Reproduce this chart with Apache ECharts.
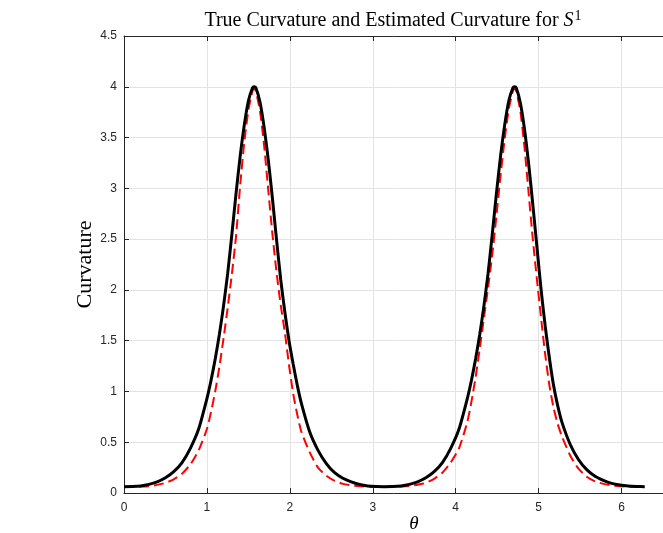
<!DOCTYPE html>
<html>
<head>
<meta charset="utf-8">
<script src="https://cdn.jsdelivr.net/npm/echarts@6/dist/echarts.min.js"></script>
<style>
  html, body { margin: 0; padding: 0; background: #fff; }
  #chart { width: 663px; height: 533px; }
</style>
</head>
<body>
<div id="chart"></div>
<script>
// theta samples (denser around the two peaks)
const theta = [
  0, 0.1, 0.2, 0.3, 0.4, 0.5, 0.6, 0.7, 0.8, 0.9, 1.0,
  1.05, 1.1, 1.15, 1.2, 1.25, 1.3, 1.35, 1.4, 1.45, 1.5, 1.55, 1.57,
  1.59, 1.64, 1.69, 1.74, 1.79, 1.84, 1.89, 1.94, 1.99, 2.04, 2.09, 2.14,
  2.24, 2.34, 2.44, 2.54, 2.64, 2.74, 2.84, 2.94, 3.04, 3.14,
  3.24, 3.34, 3.44, 3.54, 3.64, 3.74, 3.84, 3.94, 4.04, 4.14,
  4.19, 4.24, 4.29, 4.34, 4.39, 4.44, 4.49, 4.54, 4.59, 4.64, 4.69, 4.71,
  4.73, 4.78, 4.83, 4.88, 4.93, 4.98, 5.03, 5.08, 5.13, 5.18, 5.23, 5.28,
  5.38, 5.48, 5.58, 5.68, 5.78, 5.88, 5.98, 6.08, 6.18, 6.28
];
// true curvature (black solid)
const trueCurv = [
  0.0625, 0.064, 0.07, 0.085, 0.11, 0.15, 0.21, 0.30, 0.44, 0.63, 0.93,
  1.11, 1.32, 1.56, 1.84, 2.16, 2.54, 2.94, 3.31, 3.62, 3.86, 3.99, 4.0,
  3.99, 3.85, 3.60, 3.28, 2.90, 2.49, 2.10, 1.78, 1.50, 1.27, 1.06, 0.88,
  0.60, 0.42, 0.29, 0.20, 0.145, 0.11, 0.085, 0.07, 0.064, 0.0625,
  0.064, 0.07, 0.085, 0.11, 0.15, 0.21, 0.30, 0.44, 0.63, 0.93,
  1.11, 1.32, 1.56, 1.84, 2.16, 2.54, 2.94, 3.31, 3.62, 3.86, 3.99, 4.0,
  3.99, 3.84, 3.58, 3.24, 2.84, 2.42, 2.0, 1.64, 1.33, 1.06, 0.86, 0.70,
  0.48, 0.33, 0.23, 0.165, 0.125, 0.095, 0.078, 0.068, 0.064, 0.0625
];
// estimated curvature (red dashed)
const estCurv = [
  0.0625, 0.062, 0.063, 0.067, 0.08, 0.10, 0.135, 0.19, 0.28, 0.42, 0.63,
  0.80, 1.0, 1.24, 1.52, 1.82, 2.15, 2.52, 3.02, 3.45, 3.77, 3.96, 3.98,
  3.96, 3.76, 3.42, 2.98, 2.55, 2.17, 1.85, 1.58, 1.26, 0.98, 0.77, 0.60,
  0.40, 0.25, 0.17, 0.12, 0.09, 0.075, 0.066, 0.063, 0.062, 0.0625,
  0.062, 0.064, 0.07, 0.082, 0.10, 0.14, 0.20, 0.30, 0.44, 0.70,
  0.90, 1.14, 1.42, 1.72, 2.02, 2.34, 2.72, 3.12, 3.48, 3.78, 3.96, 3.98,
  3.96, 3.76, 3.40, 2.95, 2.50, 2.10, 1.72, 1.36, 1.06, 0.84, 0.68, 0.56,
  0.37, 0.24, 0.16, 0.115, 0.09, 0.075, 0.067, 0.063, 0.062, 0.0625
];
const xTicks = [0, 1, 2, 3, 4, 5, 6];
const yTicks = [0, 0.5, 1, 1.5, 2, 2.5, 3, 3.5, 4, 4.5];

const serif = "'Liberation Serif', 'DejaVu Serif', serif";
const sans = "'Liberation Sans', Arial, sans-serif";
const axisColor = "#262626";

const chart = echarts.init(document.getElementById("chart"));
chart.setOption({
  animation: false,
  backgroundColor: "#fff",
  title: [
    {
      text: "True Curvature and Estimated Curvature for {s|S}{sup|1}",
      left: 388,
      top: 4,
      textAlign: "center",
      textStyle: {
        fontFamily: serif,
        fontSize: 20,
        fontWeight: "normal",
        color: "#000",
        rich: {
          s: { fontFamily: serif, fontSize: 20, fontStyle: "italic", color: "#000" },
          sup: { fontFamily: serif, fontSize: 14, color: "#000", padding: [0, 0, 10, 1] },
        },
      },
    },
    {
      text: "θ",
      left: 409,
      top: 509,
      textAlign: "center",
      textStyle: { fontFamily: serif, fontSize: 19, fontStyle: "italic", fontWeight: "normal", color: "#000" },
    },
  ],
  grid: { left: 124, right: 0, top: 36, bottom: 40, outerBoundsMode: "none" },
  xAxis: [
    {
      type: "value",
      min: xTicks[0],
      max: 6.5,
      interval: 1,
      position: "bottom",
      axisLine: { lineStyle: { color: axisColor, width: 1 } },
      axisTick: { inside: true, length: 5, lineStyle: { color: axisColor } },
      axisLabel: {
        color: axisColor,
        fontFamily: sans,
        fontSize: 12,
        margin: 9,
        formatter: (v) => (xTicks.includes(v) ? String(v) : ""),
      },
      splitLine: { show: true, lineStyle: { color: "#e3e3e3", width: 1 } },
    },
    {
      type: "value",
      min: xTicks[0],
      max: 6.5,
      interval: 1,
      position: "top",
      axisLine: { show: true, lineStyle: { color: axisColor, width: 1 } },
      axisTick: { inside: true, length: 5, lineStyle: { color: axisColor } },
      axisLabel: { show: false },
      splitLine: { show: false },
    },
  ],
  yAxis: {
    type: "value",
    min: yTicks[0],
    max: yTicks[yTicks.length - 1],
    interval: 0.5,
    name: "Curvature",
    nameLocation: "middle",
    nameGap: 28,
    nameMoveOverlap: false,
    nameTextStyle: { fontFamily: serif, fontSize: 22, color: "#000" },
    axisLine: { show: true, lineStyle: { color: axisColor, width: 1 } },
    axisTick: { show: true, inside: true, length: 5, lineStyle: { color: axisColor } },
    axisLabel: { color: axisColor, fontFamily: sans, fontSize: 12, margin: 7 },
    splitLine: { show: true, lineStyle: { color: "#e3e3e3", width: 1 } },
  },
  series: [
    {
      name: "Estimated",
      type: "line",
      data: theta.map((t, i) => [t, estCurv[i]]),
      showSymbol: false,
      smooth: 0.2,
      lineStyle: { color: "#ff0000", width: 2, type: [10, 5] },
      z: 2,
    },
    {
      name: "True",
      type: "line",
      data: theta.map((t, i) => [t, trueCurv[i]]),
      showSymbol: false,
      smooth: 0.2,
      lineStyle: { color: "#000", width: 3 },
      z: 3,
    },
  ],
});
</script>
</body>
</html>
